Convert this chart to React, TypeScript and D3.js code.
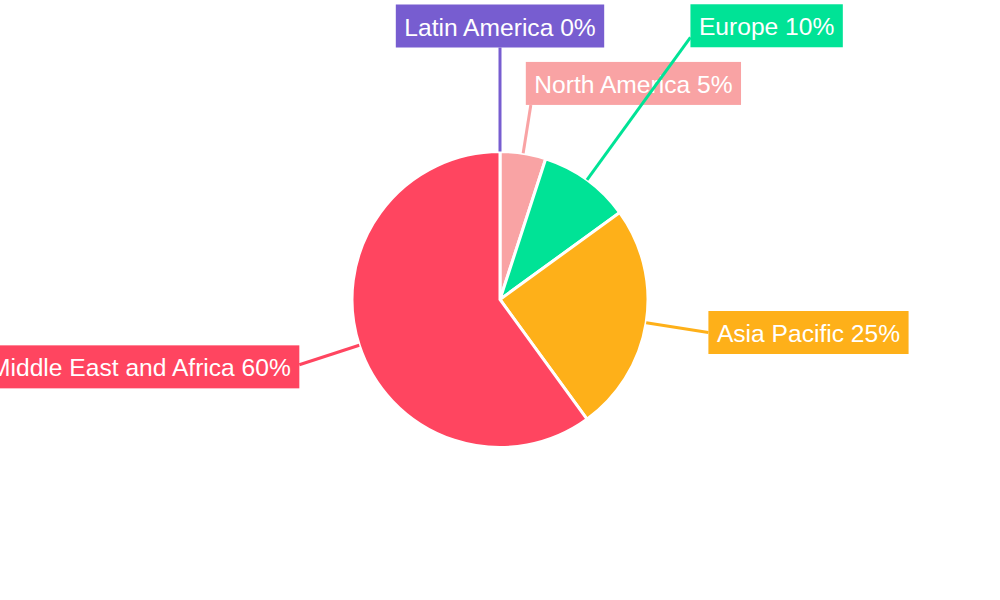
import React, {useEffect, useRef} from 'react';
import * as d3 from 'd3';

// Regional shares
const regions = ['Latin America', 'North America', 'Europe', 'Asia Pacific', 'Middle East and Africa'];
const shares = [0, 5, 10, 25, 60];
const colors = ['#775DD0', '#F9A3A4', '#00E396', '#FEB019', '#FF4560'];

// Label placement: leader length from centre, and where the box hangs on the leader end
const leaderRadius = [252, 197, 324, 211, 211];
const boxAnchorX = [0.5, 0, 0, 0, 1];
const boxAnchorY = [1, 1, 0.77, 0.5, 0.45];
const boxShiftX = [0, -5, 0, 0, 0];

interface Slice {
  region: string
  share: number
  color: string
  i: number
}

const width = 1000;
const height = 600;

const App: React.FC = () => {
  const ref = useRef<SVGSVGElement>(null);

  useEffect(() => {
    document.body.style.margin = '0';
    const svg = d3.select(ref.current!);
    svg.selectAll('*').remove();

    const cx = 500;
    const cy = 299.5;
    const radius = 148;

    const data: Slice[] = regions.map((r, i) => ({region: r, share: shares[i], color: colors[i], i}));

    const pie = d3.pie<Slice>().value(d => d.share).sort(null);
    const arcs = pie(data);
    const arc = d3.arc<d3.PieArcDatum<Slice>>().innerRadius(0).outerRadius(radius);

    const g = svg.append('g').attr('transform', `translate(${cx},${cy})`);

    g.selectAll('path.slice')
      .data(arcs)
      .join('path')
      .attr('class', 'slice')
      .attr('d', arc)
      .attr('fill', d => d.data.color)
      .attr('stroke', '#fff')
      .attr('stroke-width', 3);

    // Leader lines and boxed labels
    arcs.forEach(a => {
      const i = a.data.i;
      const mid = (a.startAngle + a.endAngle) / 2;
      const sx = Math.sin(mid) * radius;
      const sy = -Math.cos(mid) * radius;
      const ex = Math.sin(mid) * leaderRadius[i];
      const ey = -Math.cos(mid) * leaderRadius[i];

      g.append('line')
        .attr('x1', sx).attr('y1', sy)
        .attr('x2', ex).attr('y2', ey)
        .attr('stroke', a.data.color)
        .attr('stroke-width', 3);

      const lg = g.append('g');
      const rect = lg.append('rect').attr('fill', a.data.color);
      const text = lg.append('text')
        .attr('fill', '#fff')
        .attr('font-family', '"Liberation Sans", Arial, sans-serif')
        .attr('font-size', 24.6)
        .attr('dominant-baseline', 'central')
        .text(`${a.data.region} ${a.data.share}%`);

      const tw = (text.node() as SVGTextElement).getComputedTextLength();
      const padX = 8.5;
      const bw = tw + padX * 2;
      const bh = 43;
      const bx = ex - boxAnchorX[i] * bw + boxShiftX[i];
      const by = ey - boxAnchorY[i] * bh;

      rect.attr('x', bx).attr('y', by).attr('width', bw).attr('height', bh);
      text.attr('x', bx + padX).attr('y', by + bh / 2 + 1);
    });
  }, []);

  return <svg ref={ref} width={width} height={height} style={{display: 'block', background: '#fff'}}/>;
};

export default App;
